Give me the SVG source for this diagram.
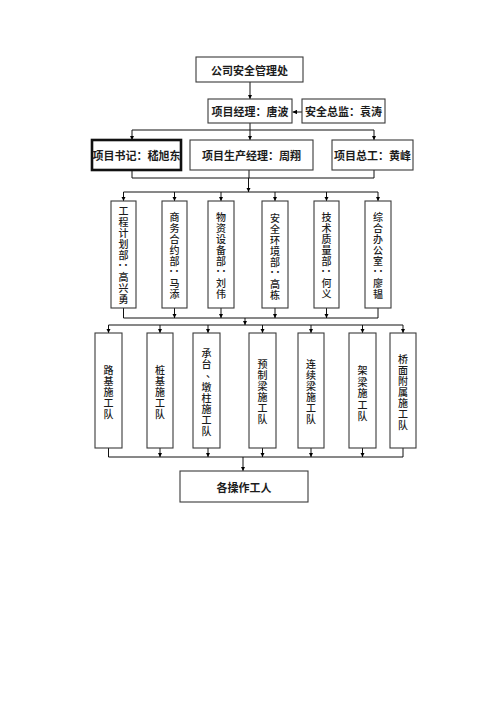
<svg xmlns="http://www.w3.org/2000/svg" width="500" height="707" viewBox="0 0 500 707">
<defs>
<marker id="arr" viewBox="0 0 10 10" refX="10" refY="5" markerWidth="4.5" markerHeight="4.5" markerUnits="userSpaceOnUse" orient="auto">
<path d="M0,0 L10,5 L0,10 z" fill="#000"/>
</marker>
</defs>
<style>
.box{fill:#fff;stroke:#3a3a3a;stroke-width:1.1}
.thick{fill:#fff;stroke:#111;stroke-width:2.6}
.ln{fill:none;stroke:#111;stroke-width:1}
.ar{fill:none;stroke:#111;stroke-width:1;marker-end:url(#arr)}
.h{font-family:"Noto Sans CJK SC","Noto Sans CJK TC",sans-serif;font-size:11px;font-weight:700;fill:#1c1c1c;text-anchor:middle;dominant-baseline:central}
.v{font-family:"Noto Sans CJK SC","Noto Sans CJK TC",sans-serif;font-size:10px;font-weight:500;fill:#1c1c1c;text-anchor:middle;dominant-baseline:central}
.c{font-family:"Noto Sans CJK TC","Noto Sans CJK SC",sans-serif;font-size:10px;font-weight:700;fill:#1c1c1c;text-anchor:middle;dominant-baseline:central}
</style>
<rect width="500" height="707" fill="#fff"/>

<g id="connectors">
<path class="ar" d="M250,82 V99"/>
<path class="ar" d="M302,112 H292.5"/>
<path class="ar" d="M250,123 V140"/>
<path class="ln" d="M132,130 H374"/>
<path class="ar" d="M132,130 V140"/>
<path class="ar" d="M374,130 V140"/>
<path class="ln" d="M132,170 V178 H374 V170"/>
<path class="ln" d="M249,170 V178"/>
<path class="ar" d="M248.5,178 V192"/>
<path class="ln" d="M123.5,192 H378"/>
<path class="ar" d="M123.5,192 V201"/>
<path class="ar" d="M174.5,192 V201"/>
<path class="ar" d="M221,192 V201"/>
<path class="ar" d="M275,192 V201"/>
<path class="ar" d="M326.5,192 V201"/>
<path class="ar" d="M378,192 V201"/>
<path class="ln" d="M123.5,308 V318 H378 V308"/>
<path class="ar" d="M174.5,308 V318"/>
<path class="ar" d="M221,308 V318"/>
<path class="ar" d="M275,308 V318"/>
<path class="ar" d="M326.5,308 V318"/>
<path class="ar" d="M245,318 V325"/>
<path class="ln" d="M108.5,325 H403"/>
<path class="ar" d="M108.5,325 V333"/>
<path class="ar" d="M160,325 V333"/>
<path class="ar" d="M208,325 V333"/>
<path class="ar" d="M262.5,325 V333"/>
<path class="ar" d="M311,325 V333"/>
<path class="ar" d="M362.5,325 V333"/>
<path class="ar" d="M403,325 V333"/>
<path class="ln" d="M108.5,448 V457 H403 V448"/>
<path class="ar" d="M160,448 V457"/>
<path class="ar" d="M208,448 V457"/>
<path class="ar" d="M262.5,448 V457"/>
<path class="ar" d="M311,448 V457"/>
<path class="ar" d="M362.5,448 V457"/>
<path class="ar" d="M243,457 V471"/>
</g>

<g id="n-company"><rect class="box" x="196" y="57" width="107" height="25"/><text class="h" x="249.5" y="69.5">公司安全管理处</text></g>
<g id="n-pm"><rect class="box" x="208" y="99" width="84" height="24"/><text class="h" x="250" y="111">项目经理：唐波</text></g>
<g id="n-safety"><rect class="box" x="302" y="99" width="83" height="24"/><text class="h" x="343.5" y="111">安全总监：袁涛</text></g>
<g id="n-secretary"><rect class="thick" x="92" y="140" width="89" height="30"/><text class="h" x="136.5" y="155">项目书记：嵇旭东</text></g>
<g id="n-production"><rect class="box" x="190" y="140" width="123" height="30"/><text class="h" x="251.5" y="155">项目生产经理：周翔</text></g>
<g id="n-chief"><rect class="box" x="332" y="140" width="81" height="30"/><text class="h" x="372.5" y="155">项目总工：黄峰</text></g>

<g id="n-dept1"><rect class="box" x="111" y="201" width="25" height="107"/>
<text class="v"><tspan x="123.5" y="210">工</tspan><tspan x="123.5" y="221">程</tspan><tspan x="123.5" y="232">计</tspan><tspan x="123.5" y="243">划</tspan><tspan x="123.5" y="254">部</tspan><tspan x="123.5" y="276">高</tspan><tspan x="123.5" y="287">兴</tspan><tspan x="123.5" y="298">勇</tspan></text>
<text class="c" x="123.5" y="265" transform="rotate(90 123.5 265)">：</text></g>
<g id="n-dept2"><rect class="box" x="162" y="201" width="25" height="107"/>
<text class="v"><tspan x="174.5" y="216">商</tspan><tspan x="174.5" y="227">务</tspan><tspan x="174.5" y="238">合</tspan><tspan x="174.5" y="249">约</tspan><tspan x="174.5" y="260">部</tspan><tspan x="174.5" y="282">马</tspan><tspan x="174.5" y="293">添</tspan></text>
<text class="c" x="174.5" y="271" transform="rotate(90 174.5 271)">：</text></g>
<g id="n-dept3"><rect class="box" x="208" y="201" width="26" height="107"/>
<text class="v"><tspan x="221" y="216">物</tspan><tspan x="221" y="227">资</tspan><tspan x="221" y="238">设</tspan><tspan x="221" y="249">备</tspan><tspan x="221" y="260">部</tspan><tspan x="221" y="282">刘</tspan><tspan x="221" y="293">伟</tspan></text>
<text class="c" x="221" y="271" transform="rotate(90 221 271)">：</text></g>
<g id="n-dept4"><rect class="box" x="262" y="201" width="26" height="107"/>
<text class="v"><tspan x="275" y="217">安</tspan><tspan x="275" y="228">全</tspan><tspan x="275" y="239">环</tspan><tspan x="275" y="250">境</tspan><tspan x="275" y="261">部</tspan><tspan x="275" y="283">高</tspan><tspan x="275" y="294">栋</tspan></text>
<text class="c" x="275" y="272" transform="rotate(90 275 272)">：</text></g>
<g id="n-dept5"><rect class="box" x="314" y="201" width="25" height="107"/>
<text class="v"><tspan x="326.5" y="216">技</tspan><tspan x="326.5" y="227">术</tspan><tspan x="326.5" y="238">质</tspan><tspan x="326.5" y="249">量</tspan><tspan x="326.5" y="260">部</tspan><tspan x="326.5" y="282">何</tspan><tspan x="326.5" y="293">义</tspan></text>
<text class="c" x="326.5" y="271" transform="rotate(90 326.5 271)">：</text></g>
<g id="n-dept6"><rect class="box" x="365" y="201" width="26" height="107"/>
<text class="v"><tspan x="378" y="216">综</tspan><tspan x="378" y="227">合</tspan><tspan x="378" y="238">办</tspan><tspan x="378" y="249">公</tspan><tspan x="378" y="260">室</tspan><tspan x="378" y="282">廖</tspan><tspan x="378" y="293">韫</tspan></text>
<text class="c" x="378" y="271" transform="rotate(90 378 271)">：</text></g>

<g id="n-team1"><rect class="box" x="95" y="333" width="27" height="115"/>
<text class="v"><tspan x="108.5" y="369">路</tspan><tspan x="108.5" y="380">基</tspan><tspan x="108.5" y="391">施</tspan><tspan x="108.5" y="402">工</tspan><tspan x="108.5" y="413">队</tspan></text></g>
<g id="n-team2"><rect class="box" x="147" y="333" width="26" height="115"/>
<text class="v"><tspan x="160" y="369">桩</tspan><tspan x="160" y="380">基</tspan><tspan x="160" y="391">施</tspan><tspan x="160" y="402">工</tspan><tspan x="160" y="413">队</tspan></text></g>
<g id="n-team3"><rect class="box" x="193" y="333" width="27" height="115"/>
<text class="v"><tspan x="206.5" y="352">承</tspan><tspan x="206.5" y="363">台</tspan><tspan x="211" y="372">、</tspan><tspan x="206.5" y="386">墩</tspan><tspan x="206.5" y="397">柱</tspan><tspan x="206.5" y="408">施</tspan><tspan x="206.5" y="419">工</tspan><tspan x="206.5" y="430">队</tspan></text></g>
<g id="n-team4"><rect class="box" x="249" y="333" width="27" height="115"/>
<text class="v"><tspan x="262.5" y="363">预</tspan><tspan x="262.5" y="374">制</tspan><tspan x="262.5" y="385">梁</tspan><tspan x="262.5" y="396">施</tspan><tspan x="262.5" y="407">工</tspan><tspan x="262.5" y="418">队</tspan></text></g>
<g id="n-team5"><rect class="box" x="298" y="333" width="26" height="115"/>
<text class="v"><tspan x="311" y="363">连</tspan><tspan x="311" y="374">续</tspan><tspan x="311" y="385">梁</tspan><tspan x="311" y="396">施</tspan><tspan x="311" y="407">工</tspan><tspan x="311" y="418">队</tspan></text></g>
<g id="n-team6"><rect class="box" x="349" y="333" width="27" height="115"/>
<text class="v"><tspan x="362.5" y="369">架</tspan><tspan x="362.5" y="380.5">梁</tspan><tspan x="362.5" y="392">施</tspan><tspan x="362.5" y="403.5">工</tspan><tspan x="362.5" y="415">队</tspan></text></g>
<g id="n-team7"><rect class="box" x="390" y="333" width="26" height="115"/>
<text class="v"><tspan x="403" y="358">桥</tspan><tspan x="403" y="369">面</tspan><tspan x="403" y="380">附</tspan><tspan x="403" y="391">属</tspan><tspan x="403" y="402">施</tspan><tspan x="403" y="413">工</tspan><tspan x="403" y="424">队</tspan></text></g>

<g id="n-workers"><rect class="box" x="180" y="471" width="128" height="31"/><text class="h" x="244" y="486.5">各操作工人</text></g>
</svg>
